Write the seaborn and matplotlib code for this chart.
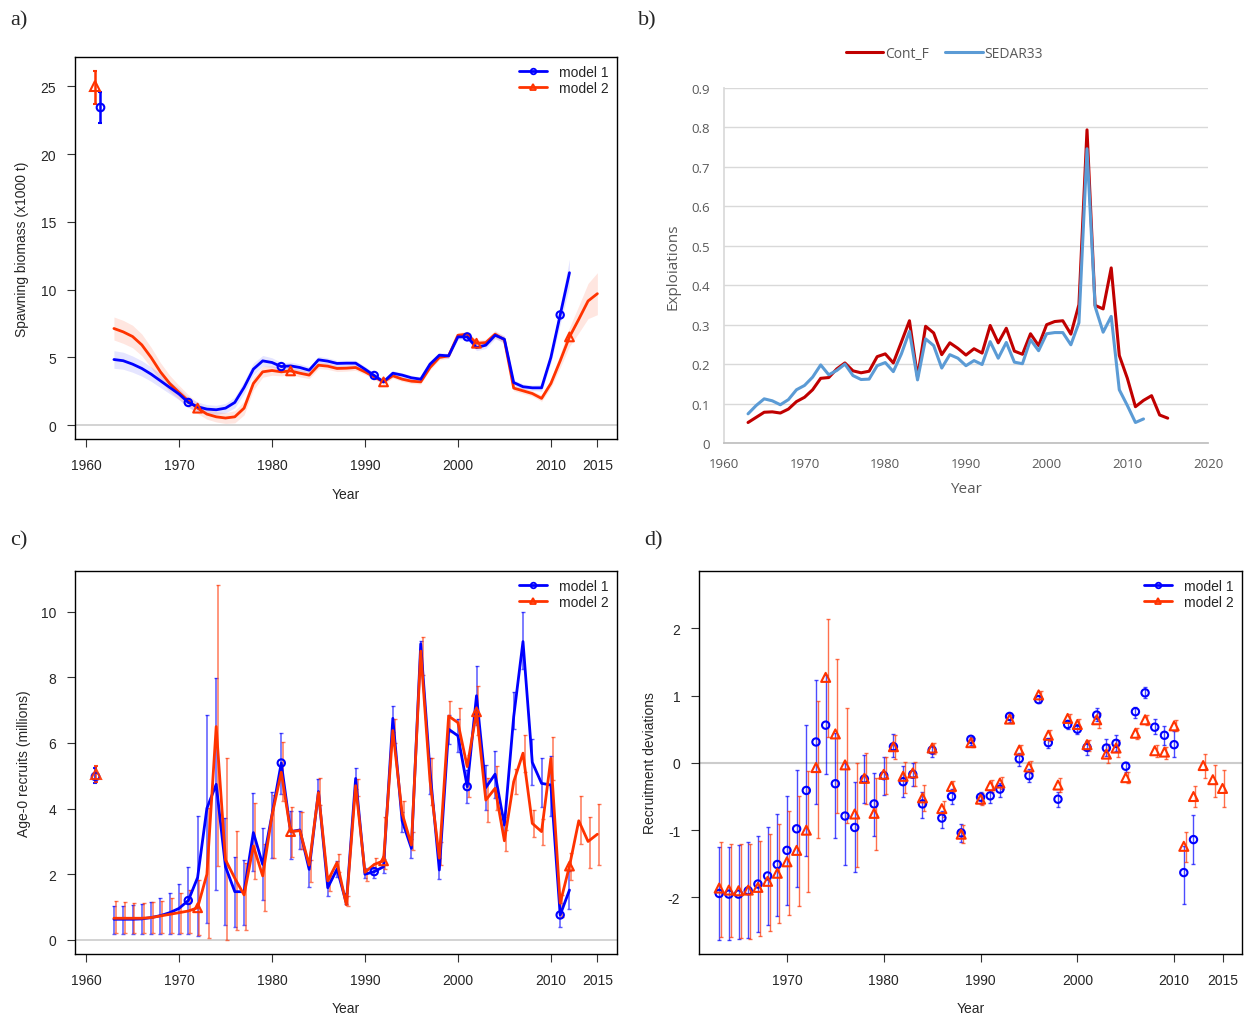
import numpy as np
import pandas as pd
import matplotlib
matplotlib.use("Agg")
import matplotlib.pyplot as plt
from matplotlib.lines import Line2D
import seaborn as sns

sns.set_theme(style="white")
plt.rcParams['font.family'] = ['Liberation Sans', 'DejaVu Sans']

# ---------------- Panel a: spawning biomass ----------------
years_m1 = list(range(1963, 2013))
years_m2 = list(range(1963, 2016))
ssb_m1 = [4.84, 4.75, 4.5, 4.18, 3.76, 3.27, 2.78, 2.29, 1.67, 1.35,
          1.18, 1.13, 1.25, 1.67, 2.78, 4.13, 4.74, 4.62, 4.32, 4.37,
          4.25, 4.05, 4.82, 4.72, 4.55, 4.57, 4.57, 4.13, 3.66, 3.19,
          3.83, 3.69, 3.49, 3.39, 4.5, 5.16, 5.11, 6.51, 6.51, 5.72,
          5.9, 6.63, 6.34, 3.14, 2.83, 2.75, 2.75, 4.99, 8.13, 11.25]
ssb_m2 = [7.13, 6.88, 6.54, 5.92, 4.99, 3.93, 3.07, 2.41, 1.79, 1.25,
          0.81, 0.61, 0.52, 0.61, 1.25, 3.07, 3.93, 4.03, 3.93, 4.0,
          3.83, 3.69, 4.42, 4.35, 4.18, 4.2, 4.25, 3.93, 3.56, 3.19,
          3.64, 3.39, 3.24, 3.19, 4.25, 4.99, 5.11, 6.63, 6.71, 6.04,
          6.09, 6.71, 6.29, 2.73, 2.53, 2.33, 1.97, 3.07, 4.74, 6.51,
          7.81, 9.16, 9.7]
ssb_hw_m1 = [0.65, 0.63, 0.6, 0.57, 0.53, 0.5, 0.46, 0.42, 0.38, 0.35,
             0.33, 0.33, 0.35, 0.4, 0.45, 0.45, 0.4, 0.35, 0.3, 0.28,
             0.27, 0.26, 0.25, 0.24, 0.23, 0.22, 0.21, 0.2, 0.19, 0.18,
             0.18, 0.17, 0.17, 0.17, 0.18, 0.18, 0.19, 0.2, 0.22, 0.23,
             0.25, 0.27, 0.25, 0.2, 0.2, 0.2, 0.25, 0.4, 0.7, 1.0]
ssb_hw_m2 = [0.85, 0.85, 0.83, 0.8, 0.75, 0.68, 0.6, 0.52, 0.45, 0.4,
             0.38, 0.38, 0.4, 0.45, 0.5, 0.48, 0.4, 0.35, 0.3, 0.28,
             0.27, 0.26, 0.25, 0.24, 0.23, 0.22, 0.21, 0.2, 0.19, 0.18,
             0.18, 0.17, 0.17, 0.17, 0.18, 0.18, 0.19, 0.2, 0.22, 0.23,
             0.25, 0.27, 0.25, 0.2, 0.2, 0.2, 0.22, 0.3, 0.5, 0.7,
             1.0, 1.3, 1.55]
ssb0_m1, ssb0_m1_lo, ssb0_m1_hi = 23.46, 22.3, 24.6
ssb0_m2, ssb0_m2_lo, ssb0_m2_hi = 25.0, 23.7, 26.15

# ---------------- Panel b: exploitation ----------------
years_contf = list(range(1963, 2016))
years_sedar = list(range(1963, 2013))
cont_f = [0.052, 0.065, 0.078, 0.079, 0.076, 0.086, 0.105, 0.116, 0.135, 0.164,
          0.166, 0.188, 0.203, 0.183, 0.178, 0.182, 0.219, 0.226, 0.203, 0.256,
          0.31, 0.167, 0.296, 0.279, 0.224, 0.254, 0.24, 0.223, 0.239, 0.228,
          0.298, 0.254, 0.291, 0.233, 0.225, 0.277, 0.247, 0.3, 0.308, 0.31,
          0.276, 0.351, 0.794, 0.349, 0.34, 0.444, 0.222, 0.164, 0.092, 0.108,
          0.12, 0.071, 0.063]
sedar33 = [0.074, 0.095, 0.112, 0.107, 0.097, 0.11, 0.135, 0.146, 0.167, 0.198,
           0.173, 0.184, 0.2, 0.171, 0.161, 0.162, 0.196, 0.204, 0.181, 0.226,
           0.283, 0.16, 0.264, 0.247, 0.19, 0.224, 0.215, 0.196, 0.209, 0.199,
           0.257, 0.215, 0.255, 0.205, 0.201, 0.262, 0.234, 0.277, 0.28, 0.28,
           0.249, 0.305, 0.746, 0.346, 0.281, 0.321, 0.135, 0.095, 0.052, 0.061]

# ---------------- Panel c: age-0 recruits ----------------
rec_m1 = [0.63, 0.63, 0.63, 0.64, 0.68, 0.74, 0.83, 0.96, 1.2, 1.9,
          4.01, 4.74, 2.23, 1.47, 1.47, 3.27, 2.3, 3.81, 5.39, 3.3,
          3.35, 2.15, 4.52, 1.59, 2.16, 1.12, 4.92, 2.0, 2.08, 2.23,
          6.75, 3.63, 2.79, 9.02, 5.15, 2.13, 6.42, 6.22, 4.67, 7.44,
          4.64, 5.05, 3.5, 6.8, 9.09, 5.41, 4.77, 4.72, 0.76, 1.52]
rec_m1_lo = [0.18, 0.18, 0.18, 0.18, 0.19, 0.19, 0.19, 0.19, 0.17, 0.13,
             0.51, 1.52, 0.46, 0.38, 0.46, 2.1, 1.22, 2.49, 4.45, 2.47,
             2.77, 1.62, 4.18, 1.35, 1.93, 1.09, 4.6, 1.88, 1.9, 2.03,
             6.35, 3.3, 2.49, 8.3, 4.44, 1.86, 5.96, 5.72, 4.16, 6.55,
             3.96, 4.31, 3.25, 6.42, 8.25, 4.72, 4.04, 3.79, 0.39, 0.94]
rec_m1_hi = [1.04, 1.04, 1.05, 1.09, 1.15, 1.27, 1.42, 1.7, 2.21, 3.78,
             6.85, 7.97, 3.71, 2.54, 2.44, 4.47, 3.4, 4.52, 6.29, 3.93,
             3.94, 2.44, 4.89, 1.88, 2.39, 1.42, 5.25, 2.2, 2.23, 2.47,
             7.13, 3.91, 3.08, 9.1, 5.55, 2.49, 6.85, 6.72, 5.18, 8.35,
             5.33, 5.77, 3.76, 7.56, 10.0, 6.12, 5.53, 5.61, 1.11, 2.1]
rec_m2 = [0.66, 0.66, 0.66, 0.66, 0.68, 0.73, 0.78, 0.83, 0.88, 0.98,
          2.0, 6.5, 2.44, 1.88, 1.37, 2.86, 1.95, 3.79, 5.11, 3.3,
          3.33, 2.28, 4.49, 1.8, 2.36, 1.07, 4.7, 2.06, 2.3, 2.41,
          6.38, 3.86, 2.89, 8.8, 4.85, 2.49, 6.82, 6.62, 5.28, 6.95,
          4.26, 4.62, 3.02, 4.82, 5.69, 3.55, 3.3, 5.53, 1.12, 2.25,
          3.63, 3.0, 3.22]
rec_m2_lo = [0.2, 0.2, 0.2, 0.2, 0.2, 0.2, 0.22, 0.22, 0.2, 0.15,
             0.05, 2.25, 0.0, 0.3, 0.3, 1.85, 0.89, 2.49, 4.23, 2.54,
             2.77, 1.76, 4.11, 1.49, 2.06, 1.04, 4.4, 1.8, 2.16, 2.16,
             6.01, 3.45, 2.74, 8.07, 4.11, 2.28, 6.35, 5.96, 4.35, 6.24,
             3.6, 3.96, 2.72, 4.44, 5.13, 3.15, 2.89, 4.87, 0.71, 1.83,
             2.91, 2.2, 2.28]
rec_m2_hi = [1.19, 1.15, 1.13, 1.13, 1.15, 1.2, 1.29, 1.42, 1.52, 1.83,
             4.01, 10.81, 5.55, 3.32, 2.34, 4.18, 2.91, 4.42, 6.04, 4.04,
             3.91, 2.44, 4.92, 1.96, 2.61, 1.34, 4.9, 2.15, 2.49, 3.74,
             6.72, 4.24, 3.3, 9.24, 5.55, 2.99, 7.29, 7.06, 5.63, 7.74,
             4.92, 5.3, 3.35, 5.2, 6.24, 3.96, 3.69, 6.19, 1.37, 2.64,
             4.39, 3.74, 4.13]
rec0_m1, rec0_m1_lo, rec0_m1_hi = 5.0, 4.77, 5.25
rec0_m2, rec0_m2_lo, rec0_m2_hi = 5.05, 4.82, 5.3

# ---------------- Panel d: recruitment deviations ----------------
dev_m1 = [-1.94, -1.95, -1.95, -1.9, -1.8, -1.68, -1.51, -1.3, -0.98, -0.41,
          0.31, 0.56, -0.31, -0.79, -0.96, -0.24, -0.61, -0.19, 0.24, -0.28,
          -0.17, -0.61, 0.19, -0.82, -0.5, -1.04, 0.35, -0.51, -0.49, -0.39,
          0.69, 0.06, -0.19, 0.94, 0.3, -0.54, 0.57, 0.5, 0.23, 0.71,
          0.22, 0.29, -0.05, 0.76, 1.04, 0.53, 0.41, 0.27, -1.63, -1.14]
dev_m1_lo = [-2.63, -2.63, -2.62, -2.6, -2.51, -2.41, -2.28, -2.11, -1.85, -1.39,
             -0.61, -0.16, -1.11, -1.52, -1.62, -0.6, -1.08, -0.48, 0.08, -0.51,
             -0.35, -0.82, 0.09, -0.97, -0.61, -1.18, 0.27, -0.61, -0.6, -0.5,
             0.61, -0.04, -0.29, 0.89, 0.22, -0.66, 0.5, 0.43, 0.12, 0.62,
             0.1, 0.18, -0.13, 0.67, 0.96, 0.43, 0.27, 0.08, -2.1, -1.5]
dev_m1_hi = [-1.25, -1.25, -1.22, -1.18, -1.08, -0.96, -0.76, -0.49, -0.1, 0.56,
             1.23, 1.3, 0.45, 0.0, -0.28, 0.12, -0.15, 0.09, 0.43, -0.04,
             0.0, -0.43, 0.25, -0.71, -0.39, -0.91, 0.39, -0.43, -0.4, -0.3,
             0.74, 0.15, -0.09, 1.0, 0.37, -0.44, 0.64, 0.57, 0.32, 0.81,
             0.35, 0.41, 0.02, 0.83, 1.13, 0.65, 0.55, 0.47, -1.23, -0.78]
dev_m2 = [-1.86, -1.89, -1.9, -1.89, -1.85, -1.76, -1.64, -1.47, -1.3, -1.0,
          -0.07, 1.27, 0.43, -0.03, -0.76, -0.23, -0.75, -0.17, 0.24, -0.2,
          -0.15, -0.52, 0.22, -0.68, -0.35, -1.06, 0.3, -0.54, -0.34, -0.3,
          0.65, 0.19, -0.06, 1.01, 0.41, -0.33, 0.66, 0.57, 0.27, 0.64,
          0.13, 0.22, -0.22, 0.44, 0.64, 0.18, 0.16, 0.55, -1.24, -0.5,
          -0.04, -0.25, -0.38]
dev_m2_lo = [-2.58, -2.59, -2.6, -2.61, -2.57, -2.5, -2.38, -2.26, -2.13, -1.92,
             -1.11, 0.39, -0.75, -0.9, -1.55, -0.61, -1.29, -0.47, 0.05, -0.45,
             -0.34, -0.72, 0.13, -0.81, -0.44, -1.19, 0.23, -0.63, -0.44, -0.39,
             0.59, 0.11, -0.15, 0.95, 0.33, -0.44, 0.59, 0.5, 0.18, 0.52,
             0.0, 0.08, -0.3, 0.36, 0.56, 0.08, 0.06, 0.47, -1.47, -0.66,
             -0.23, -0.51, -0.66]
dev_m2_hi = [-1.18, -1.21, -1.21, -1.2, -1.16, -1.06, -0.91, -0.72, -0.49, -0.12,
             0.92, 2.14, 1.55, 0.81, 0.0, 0.14, -0.23, 0.09, 0.42, 0.01,
             0.02, -0.33, 0.3, -0.56, -0.27, -0.92, 0.37, -0.45, -0.25, -0.21,
             0.71, 0.27, 0.03, 1.07, 0.49, -0.22, 0.72, 0.65, 0.34, 0.74,
             0.28, 0.34, -0.13, 0.52, 0.71, 0.27, 0.24, 0.63, -1.03, -0.35,
             0.13, -0.03, -0.1]

marker_years_m1 = [1971, 1981, 1991, 2001, 2011]
marker_years_m2 = [1972, 1982, 1992, 2002, 2012]
model_labels = ["model 1", "model 2"]
xtick_years = [1960, 1970, 1980, 1990, 2000, 2010, 2015]

C1 = "#0000FF"
C2 = "#FF3300"

# ---------------- Figure ----------------
fig = plt.figure(figsize=(12.48, 10.2), dpi=100)
axA = fig.add_axes([0.060, 0.5686, 0.4343, 0.3745])
axB = fig.add_axes([0.580, 0.5647, 0.388, 0.348])
axC = fig.add_axes([0.060, 0.0637, 0.4343, 0.3755])
axD = fig.add_axes([0.560, 0.0637, 0.4351, 0.3755])

FS = 10


def r_style(ax):
    for s in ax.spines.values():
        s.set_visible(True)
        s.set_color("black")
        s.set_linewidth(1.0)
    ax.tick_params(axis="both", which="both", direction="out", length=5.5,
                   width=0.8, color="#333333", labelsize=FS, left=True, bottom=True,
                   pad=8)
    ax.set_facecolor("white")
    ax.grid(False)


def r_legend(ax, y_top=1.0):
    handles = [Line2D([0], [0], color=C1, lw=2, marker="o", ms=4,
                      mfc="none", mew=1.3),
               Line2D([0], [0], color=C2, lw=2, marker="^", ms=5,
                      mfc="none", mew=1.3)]
    ax.legend(handles, model_labels, loc="upper right", frameon=False,
              fontsize=FS, handlelength=2.0, handletextpad=0.9,
              borderaxespad=0.15, labelspacing=0.15, bbox_to_anchor=(1.0, y_top))


# ---- panel a ----
dfa1 = pd.DataFrame({"year": years_m1, "ssb": ssb_m1, "hw": ssb_hw_m1})
dfa2 = pd.DataFrame({"year": years_m2, "ssb": ssb_m2, "hw": ssb_hw_m2})
axA.fill_between(dfa2.year, dfa2.ssb - dfa2.hw, dfa2.ssb + dfa2.hw,
                 color=C2, alpha=0.12, lw=0)
axA.fill_between(dfa1.year, dfa1.ssb - dfa1.hw, dfa1.ssb + dfa1.hw,
                 color=C1, alpha=0.10, lw=0)
axA.axhline(0, color="#CCCCCC", lw=1.2, zorder=0)
sns.lineplot(data=dfa2, x="year", y="ssb", ax=axA, color=C2, lw=2)
sns.lineplot(data=dfa1, x="year", y="ssb", ax=axA, color=C1, lw=2)
mk1 = dfa1[dfa1.year.isin(marker_years_m1)]
mk2 = dfa2[dfa2.year.isin(marker_years_m2)]
axA.scatter(mk1.year, mk1.ssb, marker="o", s=28, facecolors="none",
            edgecolors=C1, linewidths=1.5, zorder=5)
axA.scatter(mk2.year, mk2.ssb, marker="^", s=40, facecolors="none",
            edgecolors=C2, linewidths=1.5, zorder=5)
axA.errorbar([1961], [ssb0_m2], yerr=[[ssb0_m2 - ssb0_m2_lo], [ssb0_m2_hi - ssb0_m2]],
             fmt="^", mfc="none", mec=C2, ms=7, mew=1.5, ecolor=C2, elinewidth=1.8,
             capsize=1.5, zorder=5)
axA.errorbar([1961.5], [ssb0_m1], yerr=[[ssb0_m1 - ssb0_m1_lo], [ssb0_m1_hi - ssb0_m1]],
             fmt="o", mfc="none", mec=C1, ms=5.5, mew=1.5, ecolor=C1, elinewidth=1.8,
             capsize=1.5, zorder=5)
r_style(axA)
axA.set_xlim(1958.8, 2017.1)
axA.set_ylim(-1.03, 27.17)
axA.set_xticks(xtick_years)
axA.set_yticks([0, 5, 10, 15, 20, 25])
axA.set_xlabel("Year", fontsize=FS, labelpad=11)
axA.set_ylabel("Spawning biomass (x1000 t)", fontsize=FS, labelpad=8)
r_legend(axA)

# ---- panel b ----
dfb1 = pd.DataFrame({"year": years_contf, "val": cont_f, "series": "Cont_F"})
dfb2 = pd.DataFrame({"year": years_sedar, "val": sedar33, "series": "SEDAR33"})
dfb = pd.concat([dfb1, dfb2], ignore_index=True)
sns.lineplot(data=dfb, x="year", y="val", hue="series",
             palette={"Cont_F": "#C00000", "SEDAR33": "#5B9BD5"},
             lw=2.2, ax=axB, legend=True)
GRAY = "#595959"
bfont = ["Open Sans", "DejaVu Sans"]
axB.set_xlim(1960, 2020)
axB.set_ylim(0, 0.9)
axB.set_yticks(np.arange(0, 0.91, 0.1))
axB.set_yticklabels(["0"] + [f"{v:.1f}" for v in np.arange(0.1, 0.91, 0.1)],
                    family=bfont, color=GRAY, fontsize=9.5)
axB.set_xticks([1960, 1970, 1980, 1990, 2000, 2010, 2020])
axB.set_xticklabels(["1960", "1970", "1980", "1990", "2000", "2010", "2020"],
                    family=bfont, color=GRAY, fontsize=9.5)
axB.tick_params(length=0, pad=10)
axB.grid(axis="y", color="#D9D9D9", lw=1)
axB.grid(axis="x", visible=False)
for k in ["top", "right"]:
    axB.spines[k].set_visible(False)
axB.spines["left"].set_visible(True)
axB.spines["left"].set_color("#D9D9D9")
axB.spines["bottom"].set_visible(True)
axB.spines["bottom"].set_color("#BFBFBF")
axB.set_axisbelow(True)
axB.set_xlabel("Year", family=bfont, color=GRAY, fontsize=11, labelpad=8)
axB.set_ylabel("Exploiations", family=bfont, color=GRAY, fontsize=11, labelpad=8)
leg = axB.legend(loc="lower center", bbox_to_anchor=(0.455, 1.04), ncol=2,
                 frameon=False, handlelength=2.7, handletextpad=0.1,
                 columnspacing=1.2, prop={"family": bfont, "size": 10})
for t in leg.get_texts():
    t.set_color(GRAY)

# ---- panel c ----
dfc1 = pd.DataFrame({"year": years_m1, "rec": rec_m1, "lo": rec_m1_lo, "hi": rec_m1_hi})
dfc2 = pd.DataFrame({"year": years_m2, "rec": rec_m2, "lo": rec_m2_lo, "hi": rec_m2_hi})
axC.axhline(0, color="#CCCCCC", lw=1.2, zorder=0)
axC.errorbar(dfc1.year, dfc1.rec, yerr=[dfc1.rec - dfc1.lo, dfc1.hi - dfc1.rec],
             fmt="none", ecolor=C1, elinewidth=1.1, capsize=1.2, alpha=0.65, zorder=2)
axC.errorbar(dfc2.year + 0.2, dfc2.rec, yerr=[dfc2.rec - dfc2.lo, dfc2.hi - dfc2.rec],
             fmt="none", ecolor=C2, elinewidth=1.1, capsize=1.2, alpha=0.65, zorder=2)
sns.lineplot(data=dfc1, x="year", y="rec", ax=axC, color=C1, lw=2, zorder=3)
sns.lineplot(data=dfc2, x="year", y="rec", ax=axC, color=C2, lw=2, zorder=3)
mc1 = dfc1[dfc1.year.isin(marker_years_m1)]
mc2 = dfc2[dfc2.year.isin(marker_years_m2)]
axC.scatter(mc1.year, mc1.rec, marker="o", s=28, facecolors="none",
            edgecolors=C1, linewidths=1.5, zorder=5)
axC.scatter(mc2.year, mc2.rec, marker="^", s=40, facecolors="none",
            edgecolors=C2, linewidths=1.5, zorder=5)
axC.errorbar([1961], [rec0_m1], yerr=[[rec0_m1 - rec0_m1_lo], [rec0_m1_hi - rec0_m1]],
             fmt="o", mfc="none", mec=C1, ms=5.5, mew=1.5, ecolor=C1, elinewidth=1.2,
             capsize=1.5, alpha=0.9, zorder=5)
axC.errorbar([1961.1], [rec0_m2], yerr=[[rec0_m2 - rec0_m2_lo], [rec0_m2_hi - rec0_m2]],
             fmt="^", mfc="none", mec=C2, ms=7, mew=1.5, ecolor=C2, elinewidth=1.2,
             capsize=1.5, alpha=0.9, zorder=5)
r_style(axC)
axC.set_xlim(1958.8, 2017.1)
axC.set_ylim(-0.43, 11.24)
axC.set_xticks(xtick_years)
axC.set_yticks([0, 2, 4, 6, 8, 10])
axC.set_xlabel("Year", fontsize=FS, labelpad=10)
axC.set_ylabel("Age-0 recruits (millions)", fontsize=FS, labelpad=7)
r_legend(axC)

# ---- panel d ----
dfd1 = pd.DataFrame({"year": years_m1, "dev": dev_m1, "lo": dev_m1_lo, "hi": dev_m1_hi})
dfd2 = pd.DataFrame({"year": years_m2, "dev": dev_m2, "lo": dev_m2_lo, "hi": dev_m2_hi})
axD.axhline(0, color="#CCCCCC", lw=1.5, zorder=0)
axD.errorbar(dfd1.year, dfd1.dev, yerr=[dfd1.dev - dfd1.lo, dfd1.hi - dfd1.dev],
             fmt="none", ecolor=C1, elinewidth=1.0, capsize=1.2, alpha=0.7, zorder=2)
axD.errorbar(dfd2.year + 0.2, dfd2.dev, yerr=[dfd2.dev - dfd2.lo, dfd2.hi - dfd2.dev],
             fmt="none", ecolor=C2, elinewidth=1.0, capsize=1.2, alpha=0.7, zorder=2)
sns.scatterplot(data=dfd1, x="year", y="dev", ax=axD, marker="o", s=28,
                facecolors="none", edgecolor=C1, linewidth=1.5, zorder=4)
sns.scatterplot(data=dfd2, x="year", y="dev", ax=axD, marker="^", s=42,
                facecolors="none", edgecolor=C2, linewidth=1.5, zorder=5)
r_style(axD)
axD.set_xlim(1960.9, 2017.0)
axD.set_ylim(-2.84, 2.85)
axD.set_xticks([1970, 1980, 1990, 2000, 2010, 2015])
axD.set_yticks([-2, -1, 0, 1, 2])
axD.set_yticklabels(["-2", "-1", "0", "1", "2"])
axD.set_xlabel("Year", fontsize=FS, labelpad=10)
axD.set_ylabel("Recruitment deviations", fontsize=FS, labelpad=8)
r_legend(axD)

# panel letters
serif = ["Liberation Serif", "DejaVu Serif"]
fig.text(0.008, 0.980, "a)", family=serif, fontsize=16, va="center")
fig.text(0.511, 0.980, "b)", family=serif, fontsize=16, va="center")
fig.text(0.008, 0.470, "c)", family=serif, fontsize=16, va="center")
fig.text(0.516, 0.470, "d)", family=serif, fontsize=16, va="center")

fig.savefig("out.png", dpi=100)
